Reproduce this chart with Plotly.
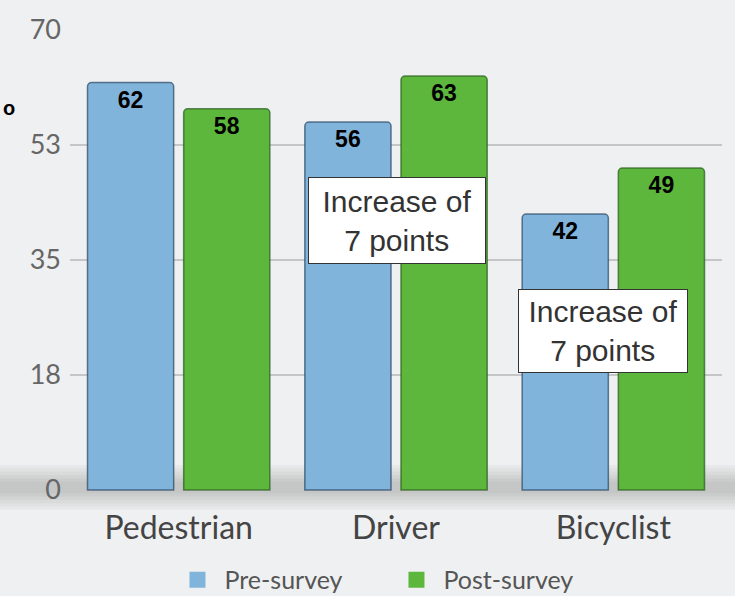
import plotly.graph_objects as go

categories = ["Pedestrian", "Driver", "Bicyclist"]
series_names = ["Pre-survey", "Post-survey"]
pre_survey = [62, 56, 42]
post_survey = [58, 63, 49]
ytick_vals = [0, 17.5, 35, 52.5, 70]
ytick_text = ["0", "18", "35", "53", "70"]
note_text = "Increase of<br>7 points"

blue = "#80b4da"
green = "#5cb73c"

fig = go.Figure()

# soft shadow band under the bars
for h in [3.4, 2.9, 2.4, 1.9, 1.4, 0.9]:
    fig.add_shape(type="rect", xref="paper", yref="y", x0=-0.11, x1=1.03,
                  y0=0.4 - h, y1=0.4 + h,
                  fillcolor="rgb(80,80,80)", opacity=0.045, line_width=0, layer="below")

for name, vals, col, edge in [(series_names[0], pre_survey, blue, "rgba(40,70,100,0.7)"),
                              (series_names[1], post_survey, green, "rgba(40,90,30,0.7)")]:
    fig.add_trace(go.Bar(
        name=name, x=categories, y=vals, showlegend=False,
        marker=dict(color=col, line=dict(color=edge, width=1.5)),
        text=[str(v) for v in vals], textposition="inside", insidetextanchor="end",
        textfont=dict(family="Liberation Sans Narrow, Liberation Sans", size=23,
                      color="black", weight="bold"),
    ))

# legend entries with square swatches
for name, col in [(series_names[0], blue), (series_names[1], green)]:
    fig.add_trace(go.Scatter(
        name=name, x=[None], y=[None], mode="markers",
        marker=dict(symbol="square", size=17, color=col),
    ))

fig.add_annotation(x="Driver", y=41.0, xref="x", yref="y", xshift=1, text=note_text,
                   showarrow=False, width=170, height=79,
                   font=dict(family="Liberation Sans", size=30, color="#333333"),
                   bgcolor="white", bordercolor="#333333", borderwidth=1, borderpad=3)
fig.add_annotation(x="Bicyclist", y=24.2, xref="x", yref="y", xshift=-10, text=note_text,
                   showarrow=False, width=162, height=76,
                   font=dict(family="Liberation Sans", size=30, color="#333333"),
                   bgcolor="white", bordercolor="#333333", borderwidth=1, borderpad=3)
fig.add_annotation(x=-0.106, y=58.2, xref="paper", yref="y", text="o", showarrow=False,
                   xanchor="left",
                   font=dict(family="Liberation Sans", size=20, color="black", weight="bold"))

fig.update_layout(
    width=735, height=596,
    margin=dict(l=70, r=13, t=30, b=81, autoexpand=False),
    paper_bgcolor="#eff0f1", plot_bgcolor="#eff0f1",
    barmode="group", bargap=0.115, bargroupgap=0.104, barcornerradius=4,
    showlegend=True,
    legend=dict(orientation="h", x=0.49, xanchor="center", yref="container",
                y=0.027, yanchor="middle",
                font=dict(family="Lato", size=25, color="#555555"),
                itemwidth=44, entrywidth=160, entrywidthmode="pixels",
                bgcolor="rgba(0,0,0,0)"),
    xaxis=dict(showgrid=False, showline=False, ticks="",
               tickfont=dict(family="Lato", size=32, color="#444444"),
               ticklabelstandoff=-9),
    yaxis=dict(range=[-3.8, 70], tickvals=ytick_vals, ticktext=ytick_text,
               showgrid=True, gridcolor="#c6c6c6", gridwidth=2, zeroline=False,
               showline=False, ticks="",
               tickfont=dict(family="Lato", size=27, color="#666666"),
               ticklabelstandoff=8),
)

fig.write_html("out.html")
